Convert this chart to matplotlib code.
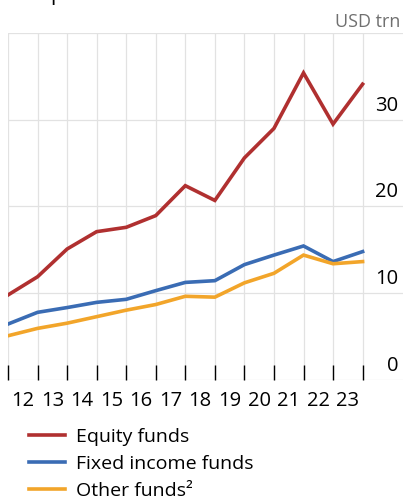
import matplotlib
matplotlib.use("Agg")
import matplotlib.pyplot as plt
import matplotlib.transforms as mtransforms

plt.rcParams['font.family'] = ['Open Sans', 'DejaVu Sans']

years = ['12', '13', '14', '15', '16', '17', '18', '19', '20', '21', '22', '23']
equity = [9.8, 11.9, 15.1, 17.1, 17.6, 18.95, 22.4, 20.7, 25.6, 29.0, 35.4, 29.5, 34.1]
fixed_income = [6.45, 7.8, 8.35, 8.95, 9.3, 10.3, 11.25, 11.45, 13.3, 14.4, 15.45, 13.65, 14.8]
other = [5.1, 5.95, 6.55, 7.3, 8.05, 8.7, 9.65, 9.55, 11.2, 12.3, 14.4, 13.4, 13.65]
yticks = [0, 10, 20, 30]

c_red = '#B03030'
c_blue = '#3A6CB4'
c_yel = '#F2A52A'

W, H = 403, 498
fig = plt.figure(figsize=(W / 100, H / 100), dpi=100)
ax = fig.add_axes([8 / W, 1 - 380 / H, (403 - 8) / W, (380 - 33) / H])

x = list(range(len(equity)))
ax.plot(x, equity, color=c_red, lw=2.6, label='Equity funds', zorder=3, solid_joinstyle='miter')
ax.plot(x, fixed_income, color=c_blue, lw=2.6, label='Fixed income funds', zorder=3, solid_joinstyle='miter')
ax.plot(x, other, color=c_yel, lw=2.6, label='Other funds²', zorder=3, solid_joinstyle='miter')

ax.set_xlim(0, (403 - 8) / 29.55)
ax.set_ylim(0, 40)

for s in ax.spines.values():
    s.set_visible(False)

# grid
for xi in x:
    ax.axvline(xi, color='#e2e2e2', lw=0.9, zorder=1)
for yv in [0, 10, 20, 30, 40]:
    ax.axhline(yv, color='#e2e2e2', lw=0.9, zorder=1)

ax.set_xticks(x)
ax.set_xticklabels([''] * len(x))
ax.tick_params(axis='x', which='major', direction='in', length=11, width=1, color='black')
ax.set_xticks([i + 0.5 for i in range(len(years))], minor=True)
ax.set_xticklabels(years, minor=True, fontsize=14.5)
ax.tick_params(axis='x', which='minor', length=0, pad=8)
ax.set_yticks([])

trans = mtransforms.blended_transform_factory(ax.transAxes, ax.transData)
for yv in yticks:
    ax.text(0.988, yv, str(yv), transform=trans + mtransforms.ScaledTranslation(0, 3 / 72, fig.dpi_scale_trans),
            ha='right', va='bottom', fontsize=14.5, color='black')

fig.text(400 / W, 1 - 22 / H, 'USD trn', ha='right', va='center', fontsize=13, color='#707070')
fig.text(50 / W, 1 - 0 / H, 'p', ha='left', va='baseline', fontsize=15, color='black')

fig.legend(loc='upper left', bbox_to_anchor=(29 / W, 1 - 428 / H), frameon=False, fontsize=14,
           handlelength=1.85, handletextpad=0.55, labelspacing=0.45, borderaxespad=0, borderpad=0)

fig.savefig('out.png', dpi=100)
